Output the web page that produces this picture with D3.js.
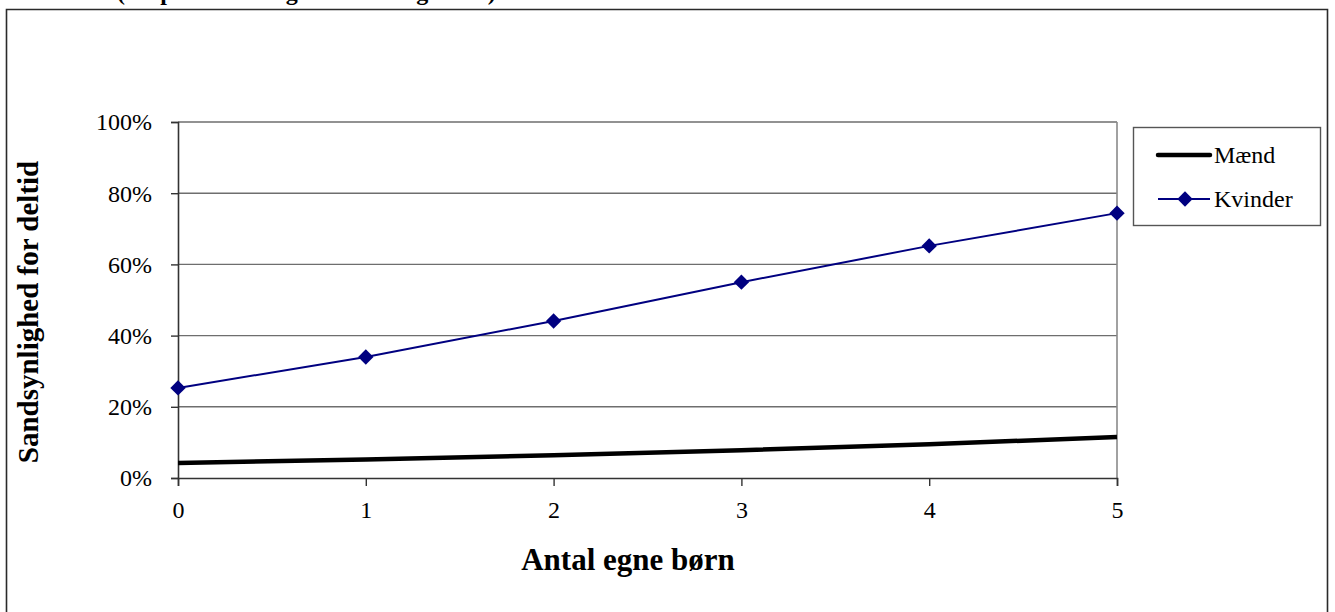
<!DOCTYPE html>
<html>
<head>
<meta charset="utf-8">
<script src="https://cdn.jsdelivr.net/npm/d3@7"></script>
<style>
  html, body { margin: 0; padding: 0; background: #fff; }
  svg { display: block; }
  text { font-family: "Liberation Serif", "Times New Roman", serif; fill: #000; }
</style>
</head>
<body>
<svg id="chart" width="1335" height="612"></svg>
<script>
// Antal egne børn (x categories)
const children = [0, 1, 2, 3, 4, 5];
// Sandsynlighed for deltid, i procent
const maend = [4.2, 5.2, 6.4, 7.8, 9.5, 11.5];
const kvinder = [25.3, 34.0, 44.1, 55.0, 65.2, 74.4];
const yTicks = [0, 20, 40, 60, 80, 100];
const seriesNames = ["Mænd", "Kvinder"];

const svg = d3.select("#chart");
const W = 1335, H = 612;
const serif = "Liberation Serif, Times New Roman, serif";

// Caption above the chart frame (runs off the top edge of the page)
svg.append("text")
  .attr("x", 117).attr("y", 0)
  .attr("font-size", 24).attr("font-weight", "bold")
  .text("(En person med gennemsnitlig alder)");
svg.append("path")
  .attr("d", `M6.5,${H + 2} V9.5 H1327.5 V${H + 2}`)
  .attr("fill", "none").attr("stroke", "#2a2a2a").attr("stroke-width", 1.6);

const plot = { left: 178, right: 1117, top: 122, bottom: 478 };

const x = d3.scaleLinear().domain([0, 5]).range([plot.left, plot.right]);
const y = d3.scaleLinear().domain([0, 100]).range([plot.bottom, plot.top]);

// Horizontal gridlines
svg.append("g")
  .selectAll("line")
  .data(yTicks.filter(d => d > 0))
  .join("line")
  .attr("x1", plot.left).attr("x2", plot.right)
  .attr("y1", d => y(d)).attr("y2", d => y(d))
  .attr("stroke", "#6e6e6e").attr("stroke-width", 1.4);

// Right edge of plot area
svg.append("line")
  .attr("x1", plot.right).attr("x2", plot.right)
  .attr("y1", plot.top).attr("y2", plot.bottom)
  .attr("stroke", "#8a8a8a").attr("stroke-width", 1.6);

// Y axis
const yAxis = d3.axisLeft(y).tickValues(yTicks).tickSize(7).tickPadding(19)
  .tickFormat(d => d + "%");
const gy = svg.append("g").attr("transform", `translate(${plot.left},0)`).call(yAxis);
gy.attr("font-size", null).attr("font-family", null);
gy.select(".domain").attr("stroke", "#333").attr("stroke-width", 1.6);
gy.selectAll(".tick line").attr("stroke", "#333").attr("stroke-width", 1.4);
gy.selectAll(".tick text").style("font-size", "24px")
  .style("font-family", serif).attr("fill", "#000")
  .attr("dy", "0.33em");

// X axis
const xAxis = d3.axisBottom(x).tickValues(children).tickSize(8).tickPadding(15)
  .tickFormat(d3.format("d"));
const gx = svg.append("g").attr("transform", `translate(0,${plot.bottom})`).call(xAxis);
gx.attr("font-size", null).attr("font-family", null);
gx.select(".domain").attr("stroke", "#333").attr("stroke-width", 1.6);
gx.selectAll(".tick line").attr("stroke", "#333").attr("stroke-width", 1.4);
gx.selectAll(".tick text").style("font-size", "24px")
  .style("font-family", serif).attr("fill", "#000");

// Series lines
const line = d3.line().x((d, i) => x(children[i])).y(d => y(d));

svg.append("path").datum(maend)
  .attr("d", line).attr("fill", "none")
  .attr("stroke", "#000").attr("stroke-width", 4.5);

svg.append("path").datum(kvinder)
  .attr("d", line).attr("fill", "none")
  .attr("stroke", "#000080").attr("stroke-width", 2);

const diamond = d3.symbol().type(d3.symbolDiamond2).size(150);
svg.append("g").selectAll("path")
  .data(kvinder)
  .join("path")
  .attr("transform", (d, i) => `translate(${x(children[i])},${y(d)})`)
  .attr("d", diamond)
  .attr("fill", "#000080");

// Axis titles
svg.append("text")
  .attr("transform", "translate(38,312) rotate(-90)")
  .attr("text-anchor", "middle")
  .style("font-size", "29px").attr("font-weight", "bold")
  .text("Sandsynlighed for deltid");

svg.append("text")
  .attr("x", 628).attr("y", 570)
  .attr("text-anchor", "middle")
  .style("font-size", "31px").attr("font-weight", "bold")
  .text("Antal egne børn");

// Legend
const legend = svg.append("g");
legend.append("rect")
  .attr("x", 1133.5).attr("y", 127.5).attr("width", 187).attr("height", 98)
  .attr("fill", "#fff").attr("stroke", "#555").attr("stroke-width", 1.4);

const legY = [155, 199];
legend.append("line")
  .attr("x1", 1158).attr("x2", 1210).attr("y1", legY[0]).attr("y2", legY[0])
  .attr("stroke", "#000").attr("stroke-width", 4.5).attr("stroke-linecap", "round");
legend.append("line")
  .attr("x1", 1158).attr("x2", 1210).attr("y1", legY[1]).attr("y2", legY[1])
  .attr("stroke", "#000080").attr("stroke-width", 2);
legend.append("path")
  .attr("transform", `translate(1185,${legY[1]})`)
  .attr("d", diamond).attr("fill", "#000080");

legend.selectAll("text.lbl")
  .data(seriesNames)
  .join("text")
  .attr("class", "lbl")
  .attr("x", 1214).attr("y", (d, i) => legY[i] + 8)
  .style("font-size", "24px")
  .text(d => d);
</script>
</body>
</html>
